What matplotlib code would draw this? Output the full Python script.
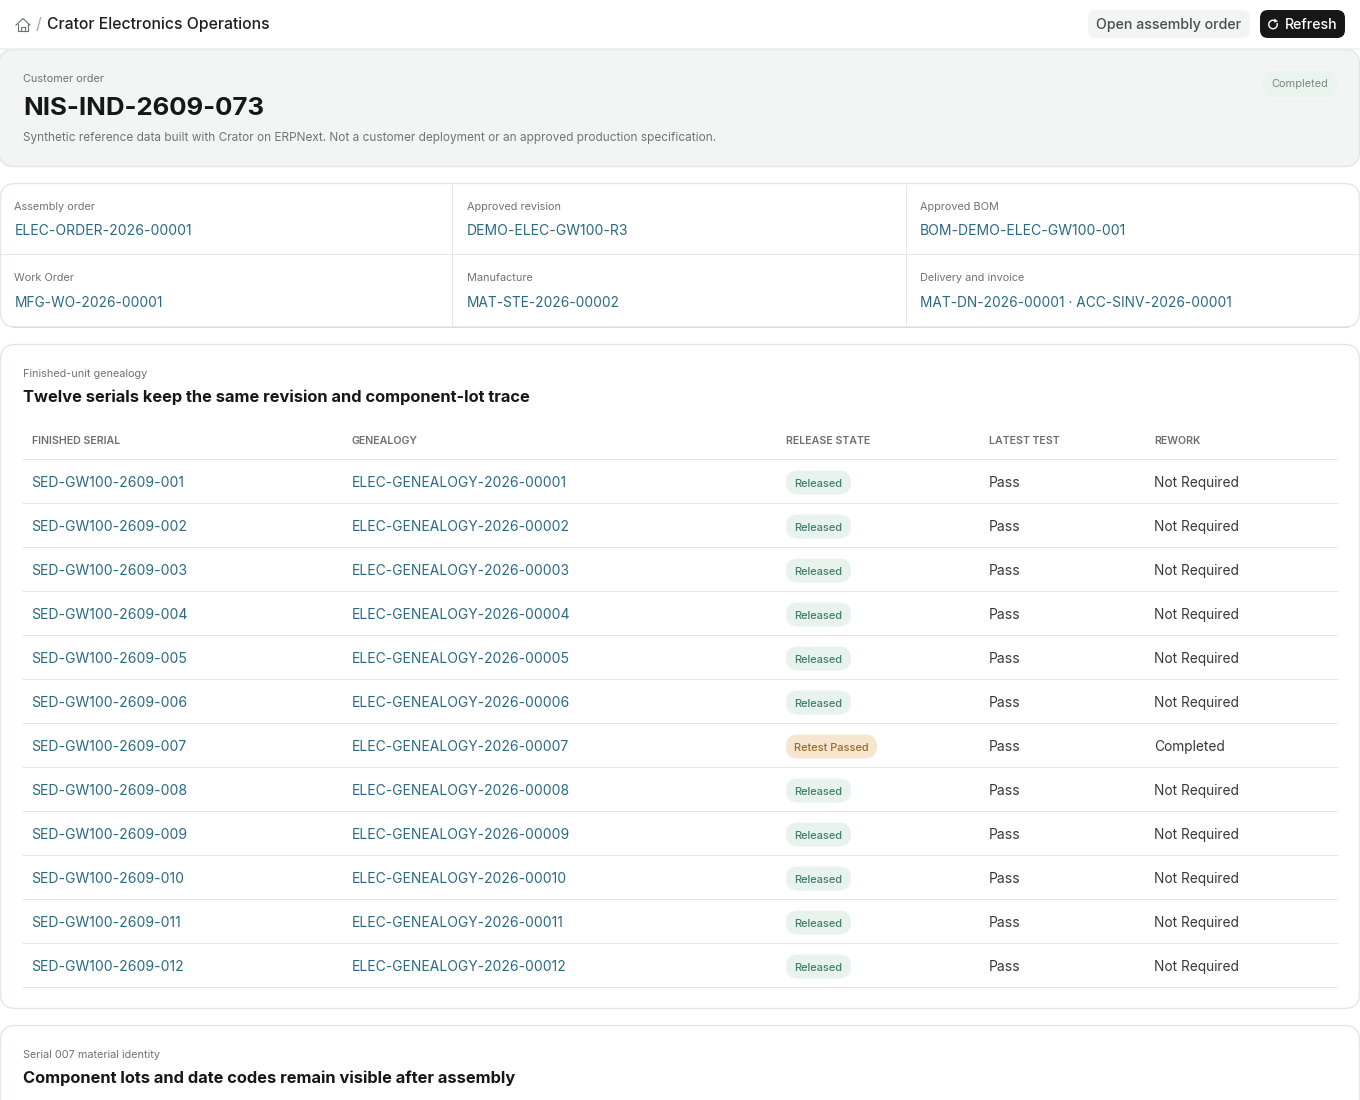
import matplotlib
matplotlib.use("Agg")
import matplotlib.pyplot as plt
from matplotlib.patches import FancyBboxPatch, Arc, Polygon

plt.rcParams['font.family'] = ['Inter', 'DejaVu Sans']

BREADCRUMB = "Crator Electronics Operations"
ORDER = "NIS-IND-2609-073"
NOTE = "Synthetic reference data built with Crator on ERPNext. Not a customer deployment or an approved production specification."
INFO_LABELS = [["Assembly order", "Approved revision", "Approved BOM"],
               ["Work Order", "Manufacture", "Delivery and invoice"]]
INFO_VALUES = [["ELEC-ORDER-2026-00001", "DEMO-ELEC-GW100-R3", "BOM-DEMO-ELEC-GW100-001"],
               ["MFG-WO-2026-00001", "MAT-STE-2026-00002", "MAT-DN-2026-00001 · ACC-SINV-2026-00001"]]
HEADERS = ["FINISHED SERIAL", "GENEALOGY", "RELEASE STATE", "LATEST TEST", "REWORK"]
SERIALS = ["SED-GW100-2609-%03d" % i for i in range(1, 13)]
GENEALOGY = ["ELEC-GENEALOGY-2026-%05d" % i for i in range(1, 13)]
STATES = ["Released"] * 6 + ["Retest Passed"] + ["Released"] * 5
TESTS = ["Pass"] * 12
REWORK = ["Not Required"] * 6 + ["Completed"] + ["Not Required"] * 5

INK = "#171717"; LINK = "#2b6a83"; MUTED = "#6f7375"; BODY = "#383838"; LINE = "#e6e8e8"

fig = plt.figure(figsize=(13.6, 11), dpi=100, facecolor="white")
ax = fig.add_axes([0, 0, 1, 1])
ax.set_xlim(0, 1360); ax.set_ylim(1100, 0); ax.axis("off")

def px(s):
    return s * 0.72

def T(x, y, s, size, color=INK, weight="normal", ha="left"):
    # y is the vertical centre of the capitals; the baseline keeps rows aligned
    return ax.text(x, y + 0.3635 * size, s, fontsize=px(size), color=color, fontweight=weight,
                   ha=ha, va="baseline")

def box(x0, y0, x1, y1, r, fc, ec="none", lw=1.0, z=1):
    p = FancyBboxPatch((x0, y0), x1 - x0, y1 - y0, boxstyle=f"round,pad=0,rounding_size={r}",
                       fc=fc, ec=ec, lw=lw, zorder=z)
    ax.add_patch(p)

def hline(y, x0, x1, c=LINE, lw=1.0):
    ax.plot([x0, x1], [y, y], color=c, lw=lw * 0.72, solid_capstyle="butt", zorder=2)

def vline(x, y0, y1, c=LINE, lw=1.0):
    ax.plot([x, x], [y0, y1], color=c, lw=lw * 0.72, solid_capstyle="butt", zorder=2)

# top bar
c = "#6b6f71"
ax.plot([16, 23, 30], [25, 18.5, 25], color=c, lw=0.8)
ax.plot([18, 18, 28, 28], [24, 31, 31, 24], color=c, lw=0.8)
ax.plot([21, 21, 25, 25], [31, 26.5, 26.5, 31], color=c, lw=0.8)
T(36, 23.5, "/", 16, "#a5a8a9")
T(47, 23.5, BREADCRUMB, 15.75, "#1f1f1f", "medium")
box(1088, 10, 1250, 38, 8, "#f3f4f4")
T(1168.5, 24, "Open assembly order", 14.2, "#4c4c4c", "medium", ha="center")
box(1260, 10, 1345, 38, 8, "#171717")
ax.add_patch(Arc((1273, 24.5), 8.5, 8.5, theta1=-20, theta2=300, color="white", lw=1.0, zorder=3))
ax.add_patch(Polygon([[1274.5, 18.5], [1278, 21.5], [1274, 22.5]], fc="white", ec="none", zorder=3))
T(1311, 24, "Refresh", 14.2, "white", "medium", ha="center")
hline(48.5, 0, 1360, "#eceeee", 1.5)

# hero
box(-1, 49.5, 1359.5, 166.5, 15, "#f3f5f5", "#e3e6e6", 1.0)
T(23, 78, "Customer order", 10.9, MUTED)
T(23, 105.5, ORDER, 25.8, INK, "bold")
T(23, 136.5, NOTE, 11.82, "#707475")
box(1263, 71, 1337, 97, 13, "#ebf3ef")
T(1300, 83.5, "Completed", 11, "#7a8a83", ha="center")

# info grid
box(0.5, 183.5, 1359.5, 327, 15, "white", "#e3e6e6", 1.0)
hline(326.5, 12, 1348, "#d9dcdc", 1.0)
hline(254, 0.5, 1359.5)
col_x = [14.5, 467, 920]
row_y = [(206, 229.5), (277, 302.2)]
value_size = [14, 13.7]
for xv in (452, 906):
    vline(xv, 183.5, 326.5)
for r, (yl, yv) in enumerate(row_y):
    for k, xt in enumerate(col_x):
        T(xt, yl, INFO_LABELS[r][k], 10.9, MUTED)
        T(xt, yv, INFO_VALUES[r][k], value_size[r], LINK)

# genealogy card
box(0.5, 344.5, 1359.5, 1008.5, 15, "white", "#e3e6e6", 1.0)
T(23, 373, "Finished-unit genealogy", 10.9, MUTED)
T(23, 396.5, "Twelve serials keep the same revision and component-lot trace", 16.42, INK, "bold")
head_x = [31.5, 352, 785.5, 989, 1154.5]
for xt, h in zip(head_x, HEADERS):
    T(xt, 440, h, 10.6, "#6b7072", "semibold")
hline(459, 22, 1337.5)
for i in range(12):
    y = 481.5 + 44 * i
    T(head_x[0], y, SERIALS[i], 14, LINK)
    T(head_x[1], y, GENEALOGY[i], 13.9, LINK)
    released = STATES[i] == "Released"
    x1 = 851 if released else 877
    box(786, y - 11, x1, y + 13, 12, "#e9f3ee" if released else "#f6e5cf", z=3)
    T((786 + x1) / 2, y + 1.5, STATES[i], 11, "#3f8068" if released else "#9a6a35", "medium", ha="center").set_zorder(4)
    T(head_x[3], y, TESTS[i], 14, BODY)
    T(head_x[4], y + 0.7, REWORK[i], 13.7, BODY)
    hline(y + 21.5, 22, 1337.5)

# next card
box(0.5, 1025.5, 1359.5, 1130, 15, "white", "#e3e6e6", 1.0)
T(23, 1054, "Serial 007 material identity", 10.9, MUTED)
T(23, 1077.5, "Component lots and date codes remain visible after assembly", 16.42, INK, "bold")

fig.savefig("out.png", dpi=100, facecolor="white")
